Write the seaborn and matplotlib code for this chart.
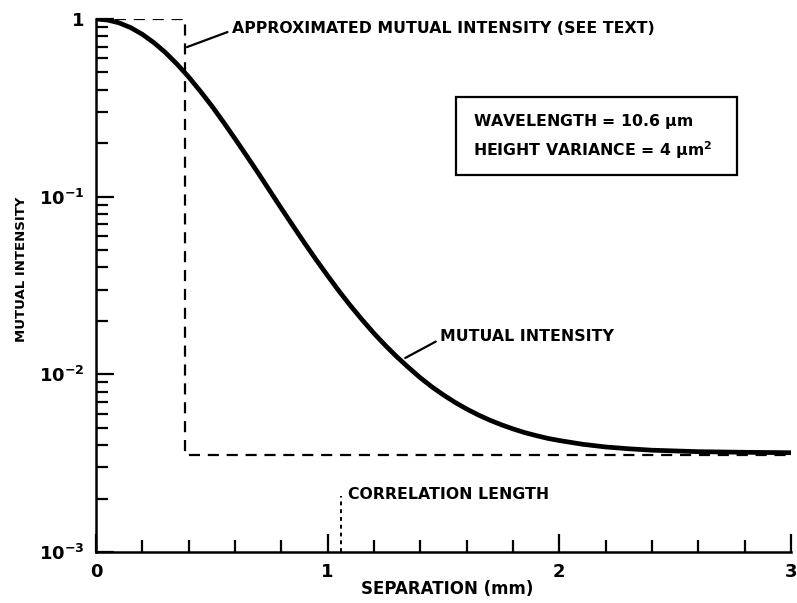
import numpy as np
import pandas as pd
import matplotlib
matplotlib.use("Agg")
import matplotlib.pyplot as plt
from matplotlib.patches import Rectangle
from matplotlib.ticker import FixedLocator, LogLocator, NullFormatter
import seaborn as sns

# Mutual intensity versus separation (mm)
separation = [0.0, 0.05, 0.1, 0.15, 0.2, 0.25, 0.3, 0.35, 0.4, 0.45, 0.5,
              0.55, 0.6, 0.65, 0.7, 0.75, 0.8, 0.85, 0.9, 0.95, 1.0,
              1.05, 1.1, 1.15, 1.2, 1.25, 1.3, 1.35, 1.4, 1.45, 1.5,
              1.55, 1.6, 1.65, 1.7, 1.75, 1.8, 1.85, 1.9, 1.95, 2.0,
              2.1, 2.2, 2.3, 2.4, 2.6, 2.8, 3.0]
mutual_intensity = [1.0, 0.987, 0.951, 0.894, 0.820, 0.736, 0.647, 0.557,
                    0.472, 0.393, 0.324, 0.263, 0.212, 0.170, 0.136, 0.108,
                    0.0859, 0.0686, 0.0549, 0.0442, 0.0359, 0.0293, 0.0242,
                    0.0202, 0.0170, 0.0145, 0.0125, 0.0109, 0.00956, 0.0085,
                    0.00765, 0.00695, 0.00638, 0.00591, 0.00552, 0.0052,
                    0.00493, 0.0047, 0.00452, 0.00436, 0.00424, 0.00404,
                    0.0039, 0.00381, 0.00374, 0.00367, 0.00364, 0.00362]

# Step approximation: unity out to the cut-off, then the floor level
approx_sep = [0.0, 0.385, 0.385, 3.0]
approx_val = [1.0, 1.0, 0.0035, 0.0035]

correlation_length = 1.056
corr_marker_top = 0.00207

x_ticks = [0, 1, 2, 3]
x_tick_labels = ["0", "1", "2", "3"]
y_ticks = [1e-3, 1e-2, 1e-1, 1]
y_tick_labels = [r"10$^{\mathbf{-3}}$", r"10$^{\mathbf{-2}}$", r"10$^{\mathbf{-1}}$", "1"]

sns.set_style("ticks")
plt.rcParams["font.family"] = ["DejaVu Sans"]
plt.rcParams["font.weight"] = "bold"
plt.rcParams["mathtext.default"] = "bf"
plt.rcParams["text.color"] = "black"
plt.rcParams["axes.labelcolor"] = "black"
plt.rcParams["xtick.labelcolor"] = "black"
plt.rcParams["ytick.labelcolor"] = "black"

fig = plt.figure(figsize=(7.97, 6.03), dpi=100)
ax = fig.add_axes([0.1204, 0.0846, 0.8721, 0.8839])

curve = pd.DataFrame({"sep": separation, "val": mutual_intensity})
approx = pd.DataFrame({"sep": approx_sep, "val": approx_val})

sns.lineplot(data=approx, x="sep", y="val", ax=ax, color="black", lw=1.6,
             linestyle=(0, (5, 3.5)), sort=False, estimator=None)
sns.lineplot(data=curve, x="sep", y="val", ax=ax, color="black", lw=3.4,
             sort=False, estimator=None)

ax.set_yscale("log")
ax.set_xlim(0, 3)
ax.set_ylim(1e-3, 1)

ax.xaxis.set_major_locator(FixedLocator(x_ticks))
ax.set_xticklabels(x_tick_labels)
ax.xaxis.set_minor_locator(FixedLocator(np.arange(0, 3.01, 0.2)))
ax.yaxis.set_major_locator(FixedLocator(y_ticks))
ax.set_yticklabels(y_tick_labels)
ax.yaxis.set_minor_locator(LogLocator(base=10, subs=np.arange(2, 10)))
ax.yaxis.set_minor_formatter(NullFormatter())

ax.tick_params(which="major", direction="in", length=13, width=1.6,
               labelsize=13, color="black", labelcolor="black", pad=8)
ax.tick_params(which="minor", direction="in", length=8.5, width=1.6,
               color="black")
for lab in ax.get_xticklabels() + ax.get_yticklabels():
    lab.set_fontweight("bold")

for side in ("top", "right"):
    ax.spines[side].set_visible(False)
for side in ("left", "bottom"):
    ax.spines[side].set_linewidth(1.8)
    ax.spines[side].set_color("black")

ax.set_xlabel("SEPARATION (mm)", fontsize=12, fontweight="bold", color="black")
ax.set_ylabel("MUTUAL INTENSITY", fontsize=9.5, fontweight="bold", color="black")
ax.xaxis.set_label_coords(0.505, -0.052)
ax.yaxis.set_label_coords(-0.098, 0.53)

txt = dict(fontsize=11.3, fontweight="bold", color="black")

# Label for the step approximation
ax.annotate("APPROXIMATED MUTUAL INTENSITY (SEE TEXT)",
            xy=(0.393, 0.695), xytext=(0.5875, 0.88), textcoords="data",
            va="center", ha="left",
            arrowprops=dict(arrowstyle="-", color="black", lw=1.6,
                            shrinkA=1, shrinkB=0, relpos=(0, 0.4)), **txt)

# Label for the computed curve
ax.annotate("MUTUAL INTENSITY",
            xy=(1.335, 0.01236), xytext=(1.486, 0.0164), textcoords="data",
            va="center", ha="left",
            arrowprops=dict(arrowstyle="-", color="black", lw=1.6,
                            shrinkA=1, shrinkB=0, relpos=(0, 0.3)), **txt)

# Parameter box
ax.add_patch(Rectangle((0.518, 0.707), 0.404, 0.147, transform=ax.transAxes,
                       fill=False, ec="black", lw=1.6))
ax.text(0.5425, 0.807, "WAVELENGTH = 10.6 $\\mu$m",
        transform=ax.transAxes, ha="left", va="center", **txt)
ax.text(0.5425, 0.754, "HEIGHT VARIANCE = 4 $\\mu$m$^2$",
        transform=ax.transAxes, ha="left", va="center", **txt)

# Correlation length marker
ax.plot([correlation_length, correlation_length], [1e-3, corr_marker_top],
        color="black", lw=1.4, linestyle=(0, (2, 2)))
ax.text(1.09, 0.0021, "CORRELATION LENGTH", ha="left", va="center", **txt)

fig.savefig("out.png", dpi=100)
